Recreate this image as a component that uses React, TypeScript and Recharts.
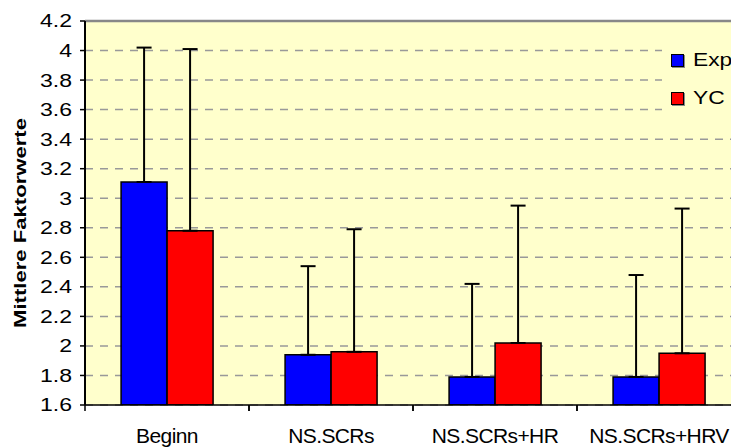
import React from "react";
import { BarChart, Bar, XAxis, YAxis, CartesianGrid, ErrorBar, ReferenceLine } from "recharts";

const categories = ["Beginn", "NS.SCRs", "NS.SCRs+HR", "NS.SCRs+HRV"];
const expMeans = [3.11, 1.94, 1.79, 1.79];
const expUpper = [4.02, 2.54, 2.42, 2.48];
const ycMeans = [2.78, 1.96, 2.02, 1.95];
const ycUpper = [4.01, 2.79, 2.95, 2.93];
const yTicks = [1.6, 1.8, 2, 2.2, 2.4, 2.6, 2.8, 3, 3.2, 3.4, 3.6, 3.8, 4, 4.2];

const data = categories.map((name, i) => ({
  name,
  exp: expMeans[i],
  expErr: [0, +(expUpper[i] - expMeans[i]).toFixed(2)],
  yc: ycMeans[i],
  ycErr: [0, +(ycUpper[i] - ycMeans[i]).toFixed(2)],
}));

const FONT = "'Liberation Sans', Arial, sans-serif";

function YTick(props: any) {
  const { x, y, payload } = props;
  return (
    <g transform={`translate(${x},${y})`}>
      <text textAnchor="end" dy="0.36em" fontSize={18} fill="#000" fontFamily={FONT} transform="scale(1.28,1)">
        {String(payload.value)}
      </text>
    </g>
  );
}

// category label, plus the tick mark on the left edge of its band (Excel style)
function XTick(props: any) {
  const { x, y, payload, width, visibleTicksCount } = props;
  const half = payload.offset || width / visibleTicksCount / 2;
  const axisY = y - 8;
  return (
    <g>
      <line x1={x - half} x2={x - half} y1={axisY} y2={axisY + 6} stroke="#000" strokeWidth={1.5} />
      <line x1={x + half} x2={x + half} y1={axisY} y2={axisY + 6} stroke="#000" strokeWidth={1.5} />
      <text x={x} y={y} dy={30} textAnchor="middle" fontSize={21} letterSpacing={-0.6} fill="#000" fontFamily={FONT}>
        {payload.value}
      </text>
    </g>
  );
}

function YTitle(props: any) {
  const vb = props.viewBox;
  const cy = vb.y + vb.height / 2 + 10;
  return (
    <text
      transform={`translate(20,${cy}) rotate(-90) scale(1.3,1)`}
      textAnchor="middle"
      dy="0.35em"
      fontSize={17}
      fontWeight="bold"
      fontFamily={FONT}
      fill="#000"
    >
      Mittlere Faktorwerte
    </text>
  );
}

const legendItems = [
  { label: "Exp", color: "#0000FF" },
  { label: "YC", color: "#FF0000" },
];

function LegendBox() {
  return (
    <div
      style={{
        position: "absolute",
        left: 662,
        top: 40,
        width: 80,
        height: 82,
        background: "#FFFFCC",
        paddingLeft: 9,
        paddingTop: 1,
        boxSizing: "border-box",
      }}
    >
      {legendItems.map((it) => (
        <div key={it.label} style={{ display: "flex", alignItems: "center", height: 38 }}>
          <span
            style={{
              width: 11,
              height: 11,
              background: it.color,
              border: "1.5px solid #000",
              boxShadow: "1px 1px 0 #888",
              marginRight: 9,
              flex: "none",
            }}
          />
          <span
            style={{
              fontFamily: FONT,
              fontSize: 19,
              color: "#000",
              display: "inline-block",
              transform: "scale(1.2,1)",
              transformOrigin: "left center",
            }}
          >
            {it.label}
          </span>
        </div>
      ))}
    </div>
  );
}

export default function App() {
  return (
    <div style={{ position: "absolute", left: 0, top: 0, width: 731, height: 448, overflow: "hidden", background: "#fff" }}>
      <BarChart
        width={760}
        height={448}
        data={data}
        margin={{ top: 21, right: 19, bottom: 0, left: 0 }}
        barCategoryGap="22%"
        barGap={0}
      >
        <CartesianGrid vertical={false} fill="#FFFFCC" stroke="#999" strokeDasharray="8 7" strokeWidth={1.5} />
        <XAxis
          dataKey="name"
          axisLine={{ stroke: "#000", strokeWidth: 1.5 }}
          tickLine={false}
          tickSize={6}
          tickMargin={2}
          tick={<XTick />}
          height={43}
          interval={0}
        />
        <YAxis
          domain={[1.6, 4.2]}
          ticks={yTicks}
          interval={0}
          allowDataOverflow
          width={85}
          axisLine={{ stroke: "#000", strokeWidth: 2 }}
          tickLine={{ stroke: "#000", strokeWidth: 1.5 }}
          tickSize={5}
          tickMargin={8}
          tick={<YTick />}
          label={{ content: <YTitle /> }}
        />
        <ReferenceLine y={4.2} stroke="#888" strokeWidth={2.5} />
        <Bar dataKey="exp" name="Exp" fill="#0000FF" stroke="#000" strokeWidth={1.5} isAnimationActive={false}>
          <ErrorBar dataKey="expErr" direction="y" width={7.5} stroke="#000" strokeWidth={2} />
        </Bar>
        <Bar dataKey="yc" name="YC" fill="#FF0000" stroke="#000" strokeWidth={1.5} isAnimationActive={false}>
          <ErrorBar dataKey="ycErr" direction="y" width={7.5} stroke="#000" strokeWidth={2} />
        </Bar>
      </BarChart>
      <LegendBox />
    </div>
  );
}
